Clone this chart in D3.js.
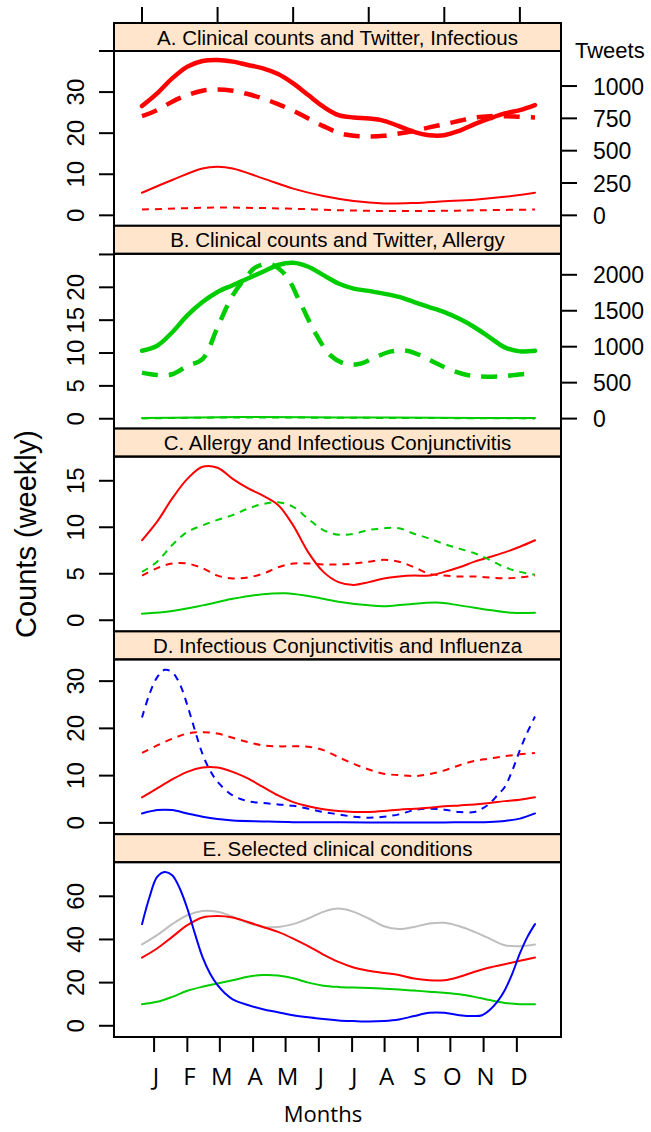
<!DOCTYPE html>
<html>
<head>
<meta charset="utf-8">
<script src="https://cdn.jsdelivr.net/npm/d3@7"></script>
<style>
  body { margin: 0; background: #fff; }
  svg { display: block; }
</style>
</head>
<body>
<svg id="chart" width="651" height="1132"></svg>
<script>
const wk2 = d3.range(0, 53, 2);

// month ticks (in weeks) and labels
const monthWeeks = [1.6, 6.0, 10.3, 14.7, 19.0, 23.4, 27.8, 32.1, 36.5, 40.8, 45.2, 49.6];
const monthLabels = ['J', 'F', 'M', 'A', 'M', 'J', 'J', 'A', 'S', 'O', 'N', 'D'];
const topTicks = [0, 10, 20, 30, 40, 50];

// A. infectious: tweets (right axis) + clinical (left axis)
const aTweetsSolid = [845, 943, 1059, 1150, 1194, 1202, 1189, 1163, 1137, 1093, 1021, 930, 840, 775, 757, 749, 731, 690, 646, 620, 620, 654, 705, 749, 788, 814, 853];
const aTweetsDash = [767, 814, 879, 930, 964, 974, 964, 938, 904, 860, 809, 749, 690, 638, 615, 610, 615, 633, 654, 680, 705, 731, 757, 767, 767, 762, 757];
const aClinWeeks = [0, 4, 8, 10, 12, 16, 20, 24, 28, 32, 36, 40, 44, 48, 52];
const aClinSolid = [5.5, 8.6, 11.4, 11.8, 11.4, 9.0, 6.5, 4.7, 3.5, 2.9, 3.0, 3.4, 3.8, 4.5, 5.5];
const aClinDashWeeks = [0, 5, 10, 15, 20, 25, 30, 35, 40, 45, 52];
const aClinDash = [1.4, 1.7, 1.9, 1.8, 1.6, 1.3, 1.1, 1.05, 1.1, 1.25, 1.4];

// B. allergy
const bTweetsSolid = [944, 1014, 1201, 1435, 1621, 1762, 1855, 1949, 2042, 2136, 2168, 2112, 1995, 1879, 1808, 1776, 1738, 1692, 1621, 1551, 1481, 1388, 1271, 1131, 991, 935, 944];
const bDashWeeks = [0, 2, 4, 6, 8, 10, 12, 14, 15, 17, 19, 21, 23, 25, 27, 29, 31, 33, 35, 37, 39, 41, 43, 45, 47, 49, 51, 52];
const bTweetsDash = [640, 607, 617, 734, 827, 1271, 1715, 1995, 2103, 2150, 1995, 1598, 1178, 874, 757, 766, 860, 935, 944, 874, 766, 673, 607, 584, 584, 603, 626, 631];
const bClinWeeks = [0, 13, 26, 39, 52];
const bClinSolid = [0.1, 0.25, 0.2, 0.15, 0.1];
const bClinDash = [0.05, 0.2, 0.15, 0.1, 0.05];

// C. allergy and infectious conjunctivitis
const cRedSolid = [8.6, 10.6, 13.1, 15.2, 16.5, 16.4, 15.2, 14.2, 13.4, 12.4, 10.2, 7.3, 5.2, 4.1, 3.8, 4.1, 4.5, 4.7, 4.8, 4.8, 5.2, 5.7, 6.3, 6.8, 7.3, 7.9, 8.6];
const cGreenDash = [5.2, 6.3, 8.1, 9.5, 10.2, 10.8, 11.3, 12.0, 12.5, 12.7, 12.2, 10.9, 9.7, 9.2, 9.3, 9.7, 9.9, 9.9, 9.3, 8.8, 8.2, 7.7, 7.2, 6.5, 5.7, 5.2, 4.9];
const cRedDash = [4.8, 5.6, 6.1, 6.1, 5.6, 4.8, 4.5, 4.6, 5.0, 5.7, 6.1, 6.1, 6.0, 6.0, 6.1, 6.3, 6.5, 6.3, 5.7, 5.0, 4.8, 4.7, 4.7, 4.6, 4.5, 4.6, 4.8];
const cGreenWeeks = [0, 4, 8, 12, 16, 19, 22, 26, 30, 32, 35, 39, 42, 46, 49, 52];
const cGreenSolid = [0.7, 1.0, 1.6, 2.3, 2.8, 2.9, 2.6, 2.0, 1.6, 1.5, 1.7, 1.9, 1.6, 1.1, 0.8, 0.8];

// D. infectious conjunctivitis and influenza
const dBlueDashWeeks = [0, 1, 2, 3, 4, 5, 6, 7, 8, 9, 10, 12, 14, 16, 18, 20, 22, 24, 26, 28, 30, 32, 34, 36, 38, 40, 42, 44, 45, 46, 47, 48, 49, 50, 51, 52];
const dBlueDash = [22.3, 27.3, 30.8, 32.4, 31.9, 29.4, 24.9, 19.6, 14.6, 11.1, 8.7, 5.8, 4.6, 4.2, 3.9, 3.6, 3.0, 2.3, 1.8, 1.3, 1.1, 1.3, 1.8, 2.7, 3.0, 2.8, 2.3, 2.3, 3.0, 4.1, 5.8, 7.6, 11.1, 15.4, 19.2, 22.5];
const dRedDash = [14.8, 16.4, 17.8, 18.9, 19.2, 18.9, 18.0, 17.1, 16.4, 16.2, 16.2, 16.1, 15.4, 13.9, 12.5, 11.3, 10.4, 10.1, 9.9, 10.3, 11.1, 12.2, 13.1, 13.6, 14.1, 14.5, 14.8];
const dRedSolid = [5.4, 7.3, 9.2, 10.8, 11.7, 11.7, 10.8, 9.4, 7.6, 5.8, 4.4, 3.5, 2.9, 2.5, 2.3, 2.3, 2.5, 2.8, 3.0, 3.2, 3.5, 3.7, 3.9, 4.2, 4.6, 4.9, 5.4];
const dBlueWeeks = [0, 2, 3, 4, 6, 8, 10, 12, 16, 20, 30, 40, 46, 48, 50, 52];
const dBlueSolid = [2.0, 2.7, 2.8, 2.7, 2.0, 1.3, 0.8, 0.5, 0.3, 0.15, 0.1, 0.1, 0.2, 0.4, 0.9, 2.0];

// E. selected clinical conditions
const eBlueWeeks = [0, 1, 2, 3, 4, 5, 6, 7, 8, 9, 10, 11, 12, 14, 16, 18, 20, 22, 24, 26, 28, 30, 32, 34, 36, 38, 40, 42, 44, 45, 46, 47, 48, 49, 50, 51, 52];
const eBlue = [47.1, 59.7, 69.0, 71.3, 69.8, 63.6, 54.3, 42.7, 31.9, 24.2, 18.8, 15.0, 12.2, 9.6, 7.7, 6.3, 4.9, 3.9, 3.1, 2.5, 2.2, 2.0, 2.2, 2.9, 4.5, 6.0, 6.0, 4.9, 4.5, 4.9, 7.3, 11.1, 16.5, 24.2, 33.5, 41.2, 47.1];
const eGray = [37.7, 42.0, 47.1, 51.2, 53.2, 52.8, 50.5, 47.7, 45.8, 45.8, 47.1, 49.7, 52.8, 54.3, 52.8, 49.7, 46.1, 44.8, 45.8, 47.4, 47.7, 46.1, 43.5, 40.4, 37.3, 36.9, 37.7];
const eRed = [31.6, 35.8, 41.2, 46.6, 50.2, 50.9, 50.2, 48.1, 45.8, 43.5, 40.4, 36.9, 33.0, 29.6, 27.0, 25.5, 24.5, 23.5, 21.9, 21.1, 21.1, 22.7, 25.0, 27.0, 28.5, 30.1, 31.6];
const eGreen = [10.0, 11.1, 13.4, 16.2, 18.1, 19.6, 21.1, 22.7, 23.5, 23.3, 22.0, 20.0, 18.6, 18.0, 17.7, 17.5, 17.2, 16.8, 16.3, 15.8, 15.3, 14.6, 13.4, 11.9, 10.6, 10.0, 10.0];

const RED = '#ff0000', GREEN = '#00cd00', BLUE = '#0000ff', GRAY = '#bebebe';
const THICK = 4.5, THIN = 2;

const panels = [
  { title: 'A. Clinical counts and Twitter, Infectious',
    left: [-2.55, 40], leftTicks: [0, 10, 20, 30, 40], leftLabels: [0, 10, 20, 30],
    right: [-81, 1271], rightTicks: [0, 250, 500, 750, 1000],
    series: [
      { x: wk2, y: aTweetsSolid, axis: 'right', color: RED, w: THICK },
      { x: wk2, y: aTweetsDash, axis: 'right', color: RED, w: THICK, dash: '16,11' },
      { x: aClinWeeks, y: aClinSolid, color: RED, w: THIN },
      { x: aClinDashWeeks, y: aClinDash, color: RED, w: THIN, dash: '7,6' }
    ] },
  { title: 'B. Clinical counts and Twitter, Allergy',
    left: [-1.5, 25.1], leftTicks: [0, 5, 10, 15, 20, 25], leftLabels: [0, 5, 10, 15, 20],
    right: [-139, 2292], rightTicks: [0, 500, 1000, 1500, 2000],
    series: [
      { x: wk2, y: bTweetsSolid, axis: 'right', color: GREEN, w: THICK },
      { x: bDashWeeks, y: bTweetsDash, axis: 'right', color: GREEN, w: THICK, dash: '16,11' },
      { x: bClinWeeks, y: bClinSolid, color: GREEN, w: THIN },
      { x: bClinWeeks, y: bClinDash, color: GREEN, w: THIN, dash: '7,6' }
    ] },
  { title: 'C. Allergy and Infectious Conjunctivitis',
    left: [-1.2, 17.6], leftTicks: [0, 5, 10, 15], leftLabels: [0, 5, 10, 15],
    series: [
      { x: wk2, y: cRedSolid, color: RED, w: THIN },
      { x: wk2, y: cGreenDash, color: GREEN, w: THIN, dash: '7,6' },
      { x: wk2, y: cRedDash, color: RED, w: THIN, dash: '7,6' },
      { x: cGreenWeeks, y: cGreenSolid, color: GREEN, w: THIN }
    ] },
  { title: 'D. Infectious Conjunctivitis and Influenza',
    left: [-2.4, 34.6], leftTicks: [0, 10, 20, 30], leftLabels: [0, 10, 20, 30],
    series: [
      { x: dBlueDashWeeks, y: dBlueDash, color: BLUE, w: THIN, dash: '7,6' },
      { x: wk2, y: dRedDash, color: RED, w: THIN, dash: '7,6' },
      { x: wk2, y: dRedSolid, color: RED, w: THIN },
      { x: dBlueWeeks, y: dBlueSolid, color: BLUE, w: THIN }
    ] },
  { title: 'E. Selected clinical conditions',
    left: [-5.2, 75.8], leftTicks: [0, 20, 40, 60], leftLabels: [0, 20, 40, 60],
    series: [
      { x: wk2, y: eGray, color: GRAY, w: THIN },
      { x: wk2, y: eRed, color: RED, w: THIN },
      { x: wk2, y: eGreen, color: GREEN, w: THIN },
      { x: eBlueWeeks, y: eBlue, color: BLUE, w: THIN }
    ] }
];

const svg = d3.select('#chart');
const font = '"Liberation Sans", Arial, sans-serif';

// layout
const boxLeft = 114, boxRight = 561;
const firstTop = 23, panelH = 202.8, stripH = 28;

const x = d3.scaleLinear().domain([0, 52]).range([142, 535]);

panels.forEach((p, i) => {
  const top = firstTop + i * panelH;
  const plotTop = top + stripH;
  const plotBottom = top + panelH;

  const yL = d3.scaleLinear().domain(p.left).range([plotBottom, plotTop]);
  const yR = p.right ? d3.scaleLinear().domain(p.right).range([plotBottom, plotTop]) : null;

  const g = svg.append('g');

  // curves, clipped to the panel
  const clipId = 'clip' + i;
  svg.append('clipPath').attr('id', clipId)
    .append('rect')
      .attr('x', boxLeft).attr('y', plotTop)
      .attr('width', boxRight - boxLeft).attr('height', plotBottom - plotTop);

  const lines = g.append('g').attr('clip-path', `url(#${clipId})`);
  p.series.forEach(s => {
    const ys = s.axis === 'right' ? yR : yL;
    const pts = s.x.map((w, k) => [w, s.y[k]]);
    const line = d3.line()
      .x(d => x(d[0]))
      .y(d => ys(d[1]))
      .curve(d3.curveCatmullRom.alpha(0.5));
    lines.append('path')
      .attr('d', line(pts))
      .attr('fill', 'none')
      .attr('stroke', s.color)
      .attr('stroke-width', s.w)
      .attr('stroke-linecap', s.dash ? 'butt' : 'round')
      .attr('stroke-linejoin', 'round')
      .attr('stroke-dasharray', s.dash || null);
  });

  // strip
  g.append('rect')
    .attr('x', boxLeft).attr('y', top)
    .attr('width', boxRight - boxLeft).attr('height', stripH)
    .attr('fill', '#ffe5cc')
    .attr('stroke', '#000').attr('stroke-width', 2);
  g.append('text')
    .attr('x', (boxLeft + boxRight) / 2)
    .attr('y', top + stripH / 2 + 7.5)
    .attr('text-anchor', 'middle')
    .attr('font-family', font)
    .attr('font-size', '20.5px')
    .text(p.title);

  // panel box
  g.append('rect')
    .attr('x', boxLeft).attr('y', plotTop)
    .attr('width', boxRight - boxLeft).attr('height', plotBottom - plotTop)
    .attr('fill', 'none')
    .attr('stroke', '#000').attr('stroke-width', 2);

  // left axis
  g.selectAll('.ltick')
    .data(p.leftTicks)
    .enter().append('line')
      .attr('x1', boxLeft - 15).attr('x2', boxLeft)
      .attr('y1', d => yL(d)).attr('y2', d => yL(d))
      .attr('stroke', '#000').attr('stroke-width', 2);
  g.selectAll('.llab')
    .data(p.leftLabels)
    .enter().append('text')
      .attr('transform', d => `translate(84,${yL(d)}) rotate(-90)`)
      .attr('text-anchor', 'middle')
      .attr('font-family', font)
      .attr('font-size', '24px')
      .text(d => d);

  // right axis (tweets)
  if (yR) {
    g.selectAll('.rtick')
      .data(p.rightTicks)
      .enter().append('line')
        .attr('x1', boxRight).attr('x2', boxRight + 16)
        .attr('y1', d => yR(d)).attr('y2', d => yR(d))
        .attr('stroke', '#000').attr('stroke-width', 2);
    g.selectAll('.rlab')
      .data(p.rightTicks)
      .enter().append('text')
        .attr('x', 593)
        .attr('y', d => yR(d) + 8.5)
        .attr('font-family', font)
        .attr('font-size', '23px')
        .text(d => d);
  }
});

// top ticks on panel A (weeks)
svg.selectAll('.ttick')
  .data(topTicks)
  .enter().append('line')
    .attr('x1', d => x(d)).attr('x2', d => x(d))
    .attr('y1', 7).attr('y2', firstTop)
    .attr('stroke', '#000').attr('stroke-width', 2);

svg.append('text')
  .attr('x', 575).attr('y', 58)
  .attr('font-family', font)
  .attr('font-size', '22px')
  .text('Tweets');

// bottom month axis
const bottom = firstTop + panels.length * panelH;
svg.selectAll('.mtick')
  .data(monthWeeks)
  .enter().append('line')
    .attr('x1', d => x(d)).attr('x2', d => x(d))
    .attr('y1', bottom).attr('y2', bottom + 15)
    .attr('stroke', '#000').attr('stroke-width', 2);
svg.selectAll('.mlab')
  .data(monthWeeks)
  .enter().append('text')
    .attr('x', d => x(d) + 2)
    .attr('y', 1085)
    .attr('text-anchor', 'middle')
    .attr('font-family', '"Open Sans", sans-serif')
    .attr('font-size', '24px')
    .text((d, k) => monthLabels[k]);

svg.append('text')
  .attr('x', 323).attr('y', 1122)
  .attr('text-anchor', 'middle')
  .attr('font-family', '"Open Sans", sans-serif')
  .attr('font-size', '22px')
  .text('Months');

svg.append('text')
  .attr('transform', 'translate(36,534) rotate(-90)')
  .attr('text-anchor', 'middle')
  .attr('font-family', font)
  .attr('font-size', '29px')
  .text('Counts (weekly)');
</script>
</body>
</html>
